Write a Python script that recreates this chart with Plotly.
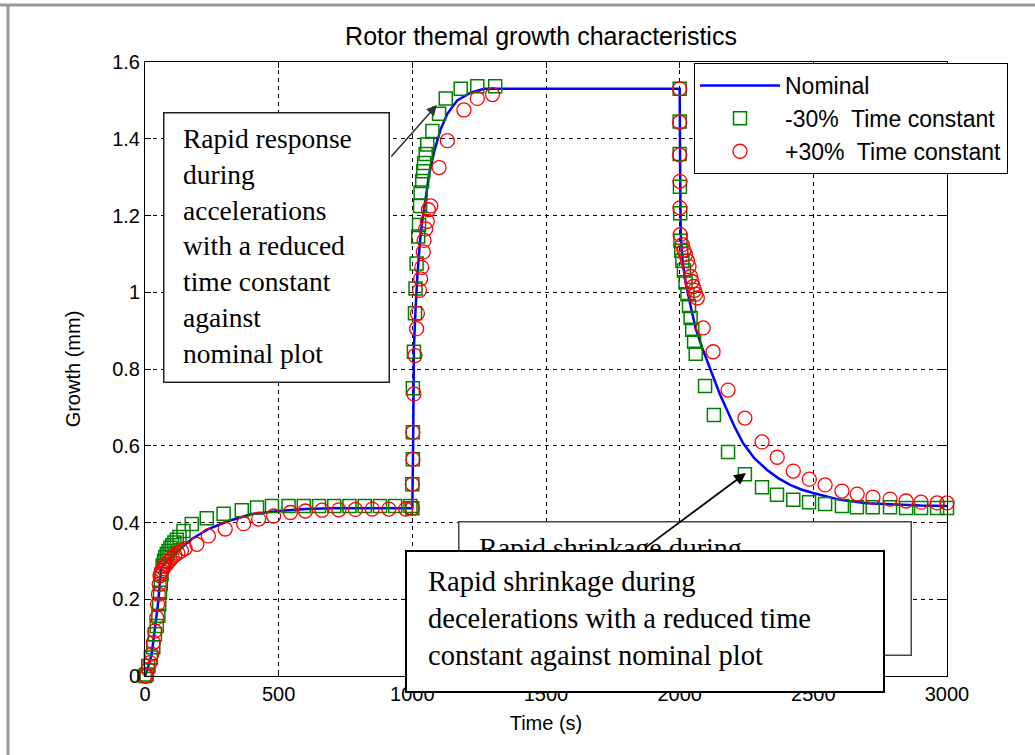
import plotly.graph_objects as go

# ---------------- data ----------------
t_nominal = [0, 10, 25, 37, 50, 56, 62, 87, 125, 175, 237, 312, 400, 500, 600, 700, 800, 900, 1000,
             1003, 1006, 1012, 1019, 1029, 1037, 1050, 1062, 1081, 1106, 1131, 1168, 1218, 1268, 1350,
             1500, 1750, 2000, 2002, 2004, 2010, 2022, 2041, 2060, 2087, 2125, 2150, 2177, 2205, 2237,
             2280, 2327, 2370, 2413, 2455, 2499, 2550, 2600, 2700, 2824, 2900, 3000]
g_nominal = [0, 0.02, 0.057, 0.126, 0.196, 0.248, 0.283, 0.304, 0.326, 0.357, 0.383, 0.404, 0.422, 0.43,
             0.435, 0.437, 0.437, 0.437, 0.437,
             0.6, 0.855, 0.955, 1.045, 1.135, 1.185, 1.245, 1.305, 1.365, 1.425, 1.465, 1.5, 1.52, 1.53, 1.53,
             1.53, 1.53, 1.53, 1.30, 1.15, 1.088, 1.026, 0.964, 0.905, 0.85, 0.78, 0.735, 0.693, 0.65, 0.607,
             0.567, 0.537, 0.515, 0.498, 0.486, 0.477, 0.467, 0.459, 0.45, 0.446, 0.444, 0.443]

t_minus30 = [0, 6, 12, 22, 31, 37, 44, 50, 53, 56, 59, 62, 66, 71, 76, 82, 88, 95, 102, 110, 119, 129,
             144, 175, 231, 294, 362, 419, 475, 537, 594, 651, 708, 765, 822, 879, 936, 993,
             1000, 1000, 1002, 1002, 1002, 1006, 1010, 1012, 1016, 1022, 1025, 1029, 1031, 1037, 1041,
             1044, 1050, 1056, 1075, 1100, 1125, 1181, 1243, 1310,
             2000, 2000, 2000, 2001, 2002, 2003, 2006, 2010, 2016, 2022, 2029, 2035, 2041, 2047, 2054,
             2060, 2095, 2128, 2181, 2244, 2308, 2364, 2425, 2484, 2544, 2607, 2663, 2722, 2787, 2847,
             2903, 2963, 3000]
g_minus30 = [0, 0.004, 0.026, 0.048, 0.075, 0.109, 0.13, 0.157, 0.187, 0.217, 0.24, 0.265, 0.287, 0.30,
             0.31, 0.318, 0.326, 0.334, 0.341, 0.348, 0.355, 0.362,
             0.378, 0.396, 0.411, 0.423, 0.432, 0.439, 0.443, 0.443, 0.443, 0.443, 0.443, 0.443, 0.443,
             0.443, 0.443, 0.443,
             0.437, 0.5, 0.565, 0.635, 0.75, 0.845, 0.945, 1.01, 1.075, 1.145, 1.175, 1.225, 1.26, 1.29,
             1.315, 1.337, 1.36, 1.385, 1.42, 1.465, 1.505, 1.53, 1.537, 1.537,
             1.53, 1.445, 1.36, 1.275, 1.206, 1.134, 1.108, 1.082, 1.057, 1.026, 0.995, 0.964, 0.933,
             0.902, 0.871, 0.84, 0.756, 0.68, 0.584, 0.526, 0.492, 0.472, 0.459, 0.453, 0.448, 0.443,
             0.44, 0.44, 0.44, 0.438, 0.438, 0.438, 0.438]

t_plus30 = [0, 4, 12, 19, 25, 31, 37, 44, 47, 50, 53, 56, 59, 63, 68, 74, 80, 87, 94, 102, 112, 123, 136,
            150, 194, 237, 300, 369, 425, 481, 544, 600, 662, 725, 787, 850, 912, 975,
            1000, 1000, 1002, 1002, 1006, 1010, 1016, 1019, 1027, 1031, 1035, 1041, 1044, 1050, 1056,
            1060, 1069, 1100, 1131, 1193, 1243, 1300,
            2000, 2000, 2000, 2001, 2001, 2002, 2010, 2016, 2022, 2029, 2035, 2041, 2046, 2051, 2056,
            2060, 2066, 2088, 2125, 2181, 2244, 2308, 2365, 2425, 2485, 2544, 2607, 2664, 2723, 2787,
            2847, 2903, 2963, 3000]
g_plus30 = [0, 0.0, 0.017, 0.035, 0.057, 0.087, 0.117, 0.152, 0.187, 0.213, 0.239, 0.261, 0.268, 0.274,
            0.28, 0.286, 0.291, 0.297, 0.303, 0.309, 0.315, 0.32, 0.326,
            0.332, 0.343, 0.365, 0.383, 0.397, 0.409, 0.417, 0.426, 0.43, 0.432, 0.433, 0.434, 0.435,
            0.435, 0.435,
            0.437, 0.5, 0.565, 0.635, 0.735, 0.835, 0.905, 0.945, 1.005, 1.035, 1.065, 1.105, 1.135,
            1.165, 1.185, 1.215, 1.225, 1.325, 1.395, 1.475, 1.505, 1.515,
            1.53, 1.443, 1.358, 1.289, 1.22, 1.15, 1.124, 1.11, 1.098, 1.082, 1.067, 1.041, 1.028,
            1.015, 1.005, 0.995, 0.985, 0.907, 0.845, 0.745, 0.672, 0.61, 0.57, 0.534, 0.513, 0.498,
            0.482, 0.474, 0.466, 0.461, 0.456, 0.453, 0.451, 0.451]

x_ticks = [0, 500, 1000, 1500, 2000, 2500, 3000]
y_ticks = [0, 0.2, 0.4, 0.6, 0.8, 1.0, 1.2, 1.4, 1.6]
y_tick_labels = ["0", "0.2", "0.4", "0.6", "0.8", "1", "1.2", "1.4", "1.6"]

title_text = "Rotor themal growth characteristics"
note_accel = ("Rapid response<br>during<br>accelerations<br>with a reduced<br>"
              "time constant<br>against<br>nominal plot")
note_decel = ("Rapid shrinkage during<br>decelerations with a reduced time<br>"
              "constant against nominal plot")

# ---------------- figure ----------------
W, H = 1035, 755
L, R, T, B = 145, 947, 62, 676


def px(xp):
    return (xp - L) / (R - L)


def py(yp):
    return (B - yp) / (B - T)


SANS = "Liberation Sans, Arial, sans-serif"
SERIF = "Liberation Serif, Times New Roman, serif"

fig = go.Figure()
fig.add_trace(go.Scatter(x=t_nominal, y=g_nominal, mode="lines", name="Nominal",
                         line=dict(color="#0000ff", width=2.5), legendgroup="a", cliponaxis=False))
fig.add_trace(go.Scatter(x=t_minus30, y=g_minus30, mode="markers", name="-30%\u00a0 Time constant",
                         marker=dict(symbol="square-open", size=13, color="#008000",
                                     line=dict(width=1.5, color="#008000")),
                         legendgroup="b", cliponaxis=False))
fig.add_trace(go.Scatter(x=t_plus30, y=g_plus30, mode="markers", name="+30%\u00a0 Time constant",
                         marker=dict(symbol="circle-open", size=14, color="#ff0000",
                                     line=dict(width=1.3, color="#ff0000")),
                         legendgroup="c", cliponaxis=False))

axis_common = dict(showline=True, linecolor="black", linewidth=1, mirror="ticks",
                   ticks="inside", ticklen=6, tickcolor="black", tickwidth=1,
                   showgrid=True, gridcolor="black", gridwidth=1, griddash="4px,4px",
                   zeroline=False, tickfont=dict(family=SANS, size=20, color="black"),
                   automargin=False)

fig.update_xaxes(range=[0, 3000], tickvals=x_ticks, ticktext=[str(v) for v in x_ticks],
                 title=dict(text="Time (s)", font=dict(family=SANS, size=20, color="black"),
                            standoff=11),
                 **axis_common)
fig.update_yaxes(range=[0, 1.6], tickvals=y_ticks, ticktext=y_tick_labels,
                 title=dict(text="Growth (mm)", font=dict(family=SANS, size=20, color="black"),
                            standoff=26),
                 **axis_common)

annotations = [
    # box 1
    dict(xref="paper", yref="paper", x=px(163), y=py(112), xanchor="left", yanchor="top",
         text=" ", showarrow=False, width=224, height=268, bgcolor="white",
         bordercolor="#222222", borderwidth=1.5, borderpad=0),
    dict(xref="paper", yref="paper", x=px(181), y=py(246), xanchor="left", yanchor="middle",
         text=note_accel, align="left", showarrow=False,
         font=dict(family=SERIF, size=27.5, color="black")),
    dict(xref="x", yref="y", x=1092, y=1.488, ax=-47, ay=53, text="", showarrow=True,
         arrowhead=2, arrowsize=1.3, arrowwidth=1.6, arrowcolor="#333333", standoff=0),
    # back box 2
    dict(xref="paper", yref="paper", x=px(458), y=py(521), xanchor="left", yanchor="top",
         text=" ", showarrow=False, width=451, height=132, bgcolor="white",
         bordercolor="#444444", borderwidth=1.5, borderpad=0),
    dict(xref="paper", yref="paper", x=px(477), y=py(584), xanchor="left", yanchor="middle",
         text=note_decel, align="left", showarrow=False,
         font=dict(family=SERIF, size=28, color="black")),
    dict(xref="x", yref="y", x=2248, y=0.529, ax=-101, ay=75, text="", showarrow=True,
         arrowhead=2, arrowsize=1.3, arrowwidth=1.8, arrowcolor="black", standoff=0),
    # front box 2
    dict(xref="paper", yref="paper", x=px(405), y=py(550), xanchor="left", yanchor="top",
         text=" ", showarrow=False, width=476, height=139, bgcolor="white",
         bordercolor="black", borderwidth=2, borderpad=0),
    dict(xref="paper", yref="paper", x=px(426), y=py(618), xanchor="left", yanchor="middle",
         text=note_decel, align="left", showarrow=False,
         font=dict(family=SERIF, size=28.5, color="black")),
]

shapes = [
    dict(type="line", xref="paper", yref="paper", x0=px(0), x1=px(W), y0=py(5), y1=py(5),
         line=dict(color="#999999", width=3)),
    dict(type="line", xref="paper", yref="paper", x0=px(8), x1=px(8), y0=py(5), y1=py(H),
         line=dict(color="#999999", width=3)),
]

fig.update_layout(
    width=W, height=H,
    margin=dict(l=L, r=W - R, t=T, b=H - B, pad=0),
    paper_bgcolor="white", plot_bgcolor="white",
    title=dict(text=title_text, x=541 / W, xanchor="center", y=1 - 36 / H, yanchor="middle",
               font=dict(family=SANS, size=25, color="black")),
    legend=dict(x=px(694), y=py(63), xanchor="left", yanchor="top", bgcolor="white",
                bordercolor="black", borderwidth=1, font=dict(family=SANS, size=23, color="black"),
                itemwidth=80, tracegroupgap=0),
    annotations=annotations,
    shapes=shapes,
)

fig.write_html("out.html")
